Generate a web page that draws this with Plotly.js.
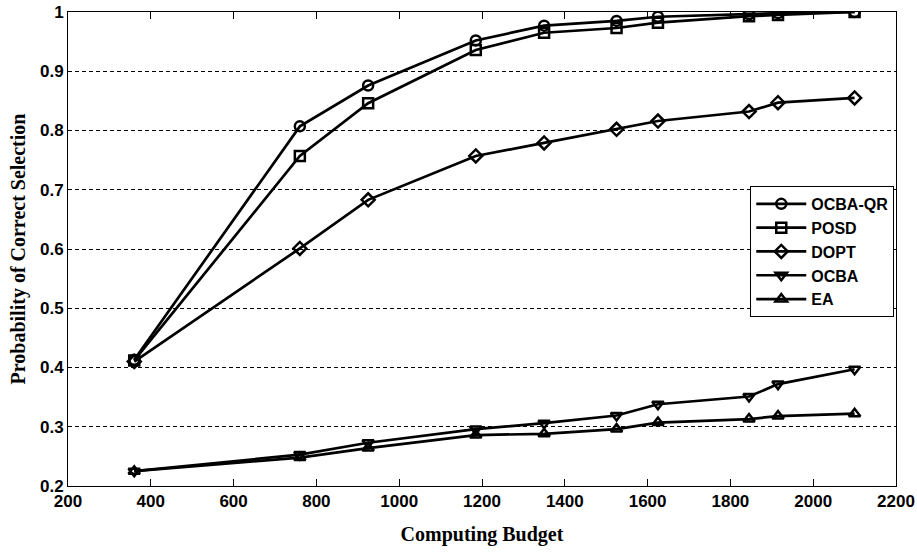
<!DOCTYPE html>
<html><head><meta charset="utf-8">
<script src="https://cdn.plot.ly/plotly-3.0.1.min.js"></script>
<style>html,body{margin:0;padding:0;background:#fff}#chart{width:917px;height:553px}</style>
</head><body><div id="chart"></div>
<script>
var budget = [360, 760, 925, 1185, 1350, 1525, 1625, 1845, 1915, 2100];
var ocbaQR = [0.413, 0.807, 0.876, 0.952, 0.977, 0.985, 0.992, 0.996, 0.998, 1.0];
var posd   = [0.412, 0.757, 0.846, 0.936, 0.965, 0.973, 0.982, 0.993, 0.995, 1.0];
var dopt   = [0.410, 0.601, 0.683, 0.757, 0.779, 0.802, 0.816, 0.832, 0.847, 0.855];
var ocba   = [0.225, 0.253, 0.273, 0.296, 0.306, 0.319, 0.338, 0.351, 0.372, 0.397];
var ea     = [0.225, 0.248, 0.264, 0.286, 0.288, 0.296, 0.307, 0.313, 0.318, 0.322];
var names  = ['OCBA-QR', 'POSD', 'DOPT', 'OCBA', 'EA'];
var xTickVals = [200, 400, 600, 800, 1000, 1200, 1400, 1600, 1800, 2000, 2200];
var xTickText = ['200', '400', '600', '800', '1000', '1200', '1400', '1600', '1800', '2000', '2200'];
var yTickVals = [0.2, 0.3, 0.4, 0.5, 0.6, 0.7, 0.8, 0.9, 1.0];
var yTickText = ['0.2', '0.3', '0.4', '0.5', '0.6', '0.7', '0.8', '0.9', '1'];
var symbols = ['circle-open', 'square-open', 'diamond-open', 'triangle-down-open', 'triangle-up-open'];
var series = [ocbaQR, posd, dopt, ocba, ea];

function b(s) { return '<b>' + s + '</b>'; }

var traces = series.map(function (s, i) {
  return {
    x: budget, y: s, name: b(names[i]), type: 'scatter', mode: 'lines+markers',
    line: {color: '#000', width: 2.7},
    marker: {symbol: symbols[i], size: 10, color: '#000', line: {color: '#000', width: 2.5}}
  };
});

var tickFont = {family: 'Liberation Sans, Arial, sans-serif', size: 17, color: '#000', weight: 700};
var titleFont = {family: 'Liberation Serif, Times New Roman, serif', size: 20, color: '#000', weight: 700};

var layout = {
  width: 917, height: 553,
  margin: {l: 68, r: 21, t: 12, b: 67},
  paper_bgcolor: '#fff', plot_bgcolor: '#fff',
  showlegend: true,
  xaxis: {
    range: [200, 2200], tickmode: 'array', tickvals: xTickVals, ticktext: xTickText.map(b),
    showgrid: false, zeroline: false,
    showline: true, linecolor: '#000', linewidth: 1, mirror: 'ticks',
    ticks: 'inside', ticklen: 7, tickcolor: '#000', tickwidth: 1,
    tickfont: tickFont,
    title: {text: b('Computing Budget'), font: titleFont, standoff: 16}
  },
  yaxis: {
    range: [0.2, 1.0], tickmode: 'array', tickvals: yTickVals, ticktext: yTickText.map(b),
    showgrid: true, gridcolor: '#000', griddash: '4px,3px', gridwidth: 1,
    zeroline: false,
    showline: true, linecolor: '#000', linewidth: 1, mirror: true,
    ticks: '', tickfont: tickFont,
    title: {text: b('Probability of Correct Selection'), font: titleFont, standoff: 8}
  },
  legend: {
    x: 0.824, y: 0.633, xanchor: 'left', yanchor: 'top',
    bgcolor: '#fff', bordercolor: '#000', borderwidth: 1,
    font: {family: 'Liberation Sans, Arial, sans-serif', size: 16, color: '#000', weight: 700},
    itemwidth: 50, tracegroupgap: 0
  }
};

Plotly.newPlot('chart', traces, layout, {displayModeBar: false, staticPlot: true});
</script></body></html>
